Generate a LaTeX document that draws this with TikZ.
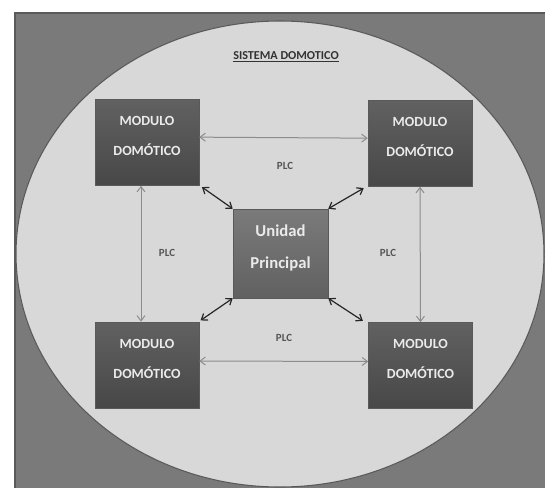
\documentclass[tikz,border=0pt]{standalone}
\usepackage{fontspec}
\setmainfont{Carlito}
\usetikzlibrary{arrows.meta}
\definecolor{fondo}{HTML}{7A7A7A}
\definecolor{borde}{HTML}{5A5A5A}
\definecolor{elipse}{HTML}{D8D8D8}
\definecolor{texto}{HTML}{555555}
\tikzset{
  modulo/.style={draw=gray!70!black, line width=0.4pt, top color=black!62, bottom color=black!72,
    minimum width=78pt, minimum height=64.5pt, align=center, text=white!92!black, text depth=9.5pt,
    font=\fontsize{10.5}{22.5}\selectfont\bfseries},
  unidad/.style={modulo, top color=black!52, bottom color=black!62, text depth=10.5pt,
    minimum width=71.25pt, minimum height=66.75pt, font=\fontsize{12.5}{24}\selectfont\bfseries},
  plc/.style={gray!90, line width=0.75pt, {Straight Barb[length=4pt,width=6pt]}-{Straight Barb[length=4pt,width=6pt]}},
  enlace/.style={black!85, line width=0.9pt, {Straight Barb[length=4pt,width=6pt]}-{Straight Barb[length=4pt,width=6pt]}},
  etiqueta/.style={text=texto, font=\fontsize{8.2}{10}\selectfont\bfseries}
}
\begin{document}
\begin{tikzpicture}[x=0.75pt,y=-0.75pt]
    \useasboundingbox (0,0) rectangle (545,488);
    % fondo y elipse
    \fill[white] (0,0) rectangle (545,488);
    \draw[borde, fill=fondo, line width=1.5pt] (15,13) rectangle (547,490);
    \draw[borde, fill=elipse, line width=0.8pt] (280,254) ellipse [x radius=264, y radius=233];
    \node[font=\fontsize{9.1}{11}\selectfont\bfseries, text=black!80] (titulo) at (286,57) {\underline{SISTEMA DOMOTICO}};
    % modulos
    \node[modulo] (tl) at (147,142.5) {MODULO\\DOMÓTICO};
    \node[modulo] (tr) at (420,143.5) {MODULO\\DOMÓTICO};
    \node[modulo] (bl) at (147,365) {MODULO\\DOMÓTICO};
    \node[modulo] (br) at (420.5,365.5) {MODULO\\DOMÓTICO};
    % unidad principal
    \node[unidad] (up) at (280.5,253.5) {Unidad\\Principal};
    % enlaces PLC
    \draw[plc] ([yshift=4pt]tl.east) -- ([yshift=4pt]tr.west);
    \draw[plc] ([yshift=3pt]bl.east) -- ([yshift=3pt]br.west);
    \draw[plc] ([xshift=-4.5pt]tl.south) -- ([xshift=-4.5pt]bl.north);
    \draw[plc] (tr.south) -- (br.north);
    \node[etiqueta] (plc1) at (285,166) {PLC};
    \node[etiqueta] (plc2) at (284,338) {PLC};
    \node[etiqueta] (plc3) at (167,253) {PLC};
    \node[etiqueta] (plc4) at (388,253) {PLC};
    % enlaces a la unidad
    \draw[enlace] ([shift={(2pt,-1pt)}]tl.south east) -- (up.north west);
    \draw[enlace] ([shift={(-3pt,-1pt)}]tr.south west) -- (up.north east);
    \draw[enlace] ([shift={(1pt,1pt)}]bl.north east) -- (up.south west);
    \draw[enlace] ([shift={(-4pt,1pt)}]br.north west) -- (up.south east);
\end{tikzpicture}
\end{document}
